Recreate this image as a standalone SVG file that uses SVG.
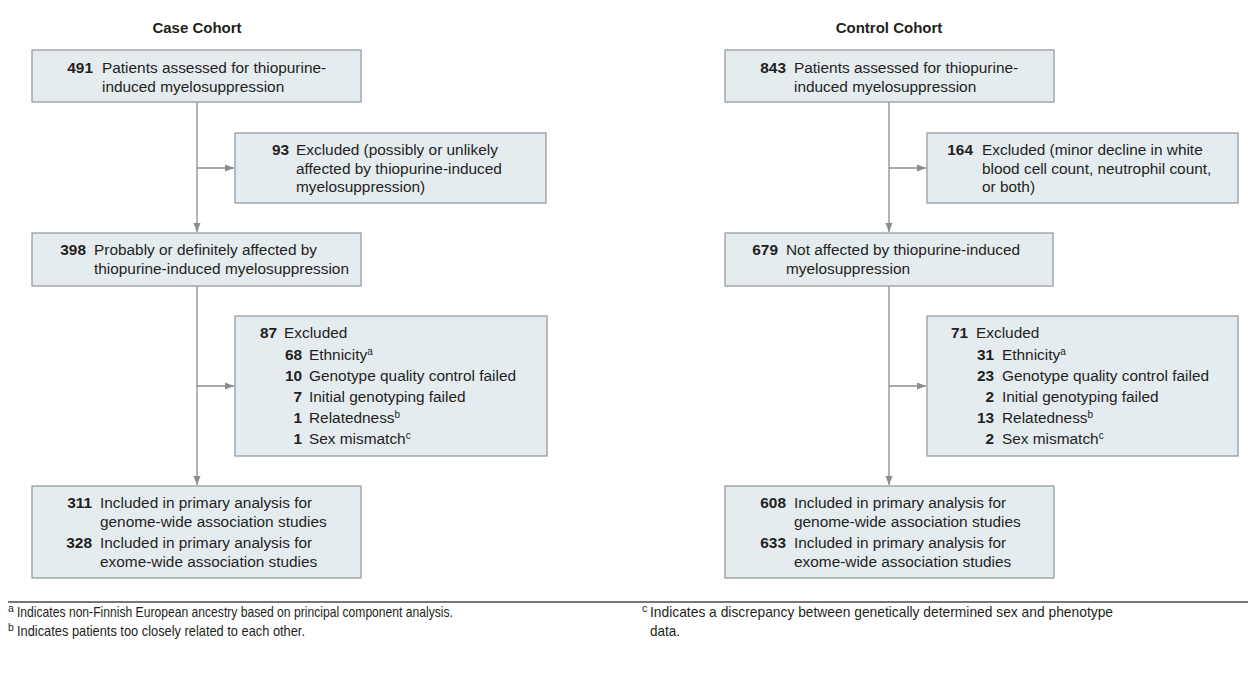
<svg xmlns="http://www.w3.org/2000/svg" width="1248" height="677" viewBox="0 0 1248 677">
<style>
.box{fill:#e5ecf0;stroke:#8f9599;stroke-width:1.2}
.t{font-family:"Liberation Sans",Arial,sans-serif;font-size:15.4px;fill:#231f20}
.n{font-family:"Liberation Sans",Arial,sans-serif;font-size:15.4px;font-weight:bold;fill:#231f20;text-anchor:end}
.h{font-family:"Liberation Sans",Arial,sans-serif;font-size:15px;font-weight:bold;fill:#231f20;text-anchor:middle}
.sup{font-size:10px}
.fn{font-family:"Liberation Sans",Arial,sans-serif;font-size:15px;fill:#231f20}
.fs{font-family:"Liberation Sans",Arial,sans-serif;font-size:10.5px;fill:#231f20}
.c{fill:none;stroke:#8c8c8c;stroke-width:1.3}
</style>
<defs>
<marker id="arr" markerUnits="userSpaceOnUse" markerWidth="9" markerHeight="8" refX="9" refY="4" orient="auto">
<path d="M0,0.5 L9,4 L0,7.5 z" fill="#8c8c8c"/>
</marker>
</defs>
<rect width="1248" height="677" fill="#ffffff"/>
<text class="h" x="197" y="33">Case Cohort</text>
<text class="h" x="889" y="33">Control Cohort</text>
<g id="connectors">
<path class="c" d="M197,102 V232" marker-end="url(#arr)"/>
<path class="c" d="M197,168 H234" marker-end="url(#arr)"/>
<path class="c" d="M197,286 V485" marker-end="url(#arr)"/>
<path class="c" d="M197,386 H234" marker-end="url(#arr)"/>
<path class="c" d="M889,102 V232" marker-end="url(#arr)"/>
<path class="c" d="M889,168 H926" marker-end="url(#arr)"/>
<path class="c" d="M889,286 V485" marker-end="url(#arr)"/>
<path class="c" d="M889,386 H926" marker-end="url(#arr)"/>
</g>
<g id="case-assessed">
<rect class="box" x="32" y="50" width="329" height="52"/>
<text class="n" x="93" y="73">491</text>
<text class="t" x="102" y="73">Patients assessed for thiopurine-</text>
<text class="t" x="102" y="92">induced myelosuppression</text>
</g>
<g id="case-excluded1">
<rect class="box" x="235" y="133" width="311" height="70"/>
<text class="n" x="289" y="155">93</text>
<text class="t" x="296" y="155">Excluded (possibly or unlikely</text>
<text class="t" x="296" y="173.5">affected by thiopurine-induced</text>
<text class="t" x="296" y="192">myelosuppression)</text>
</g>
<g id="case-affected">
<rect class="box" x="32" y="233" width="329" height="53"/>
<text class="n" x="86" y="255">398</text>
<text class="t" x="94" y="255">Probably or definitely affected by</text>
<text class="t" x="94" y="273.5">thiopurine-induced myelosuppression</text>
</g>
<g id="case-excluded2">
<rect class="box" x="235" y="316" width="312" height="140"/>
<text class="n" x="277" y="338">87</text>
<text class="t" x="284" y="338">Excluded</text>
<text class="n" x="302" y="359.5">68</text>
<text class="t" x="309" y="359.5">Ethnicity<tspan class="sup" dy="-5">a</tspan></text>
<text class="n" x="302" y="380.5">10</text>
<text class="t" x="309" y="380.5">Genotype quality control failed</text>
<text class="n" x="302" y="401.5">7</text>
<text class="t" x="309" y="401.5">Initial genotyping failed</text>
<text class="n" x="302" y="423">1</text>
<text class="t" x="309" y="423">Relatedness<tspan class="sup" dy="-5">b</tspan></text>
<text class="n" x="302" y="444">1</text>
<text class="t" x="309" y="444">Sex mismatch<tspan class="sup" dy="-5">c</tspan></text>
</g>
<g id="case-included">
<rect class="box" x="32" y="486" width="329" height="92"/>
<text class="n" x="92" y="508">311</text>
<text class="t" x="100" y="508">Included in primary analysis for</text>
<text class="t" x="100" y="527">genome-wide association studies</text>
<text class="n" x="92" y="548">328</text>
<text class="t" x="100" y="548">Included in primary analysis for</text>
<text class="t" x="100" y="567">exome-wide association studies</text>
</g>
<g id="control-assessed">
<rect class="box" x="725" y="50" width="329" height="52"/>
<text class="n" x="786" y="73">843</text>
<text class="t" x="794" y="73">Patients assessed for thiopurine-</text>
<text class="t" x="794" y="92">induced myelosuppression</text>
</g>
<g id="control-excluded1">
<rect class="box" x="927" y="133" width="311" height="70"/>
<text class="n" x="973" y="155">164</text>
<text class="t" x="982" y="155">Excluded (minor decline in white</text>
<text class="t" x="982" y="173.5">blood cell count, neutrophil count,</text>
<text class="t" x="982" y="192">or both)</text>
</g>
<g id="control-unaffected">
<rect class="box" x="725" y="233" width="328" height="53"/>
<text class="n" x="778" y="255">679</text>
<text class="t" x="786" y="255">Not affected by thiopurine-induced</text>
<text class="t" x="786" y="273.5">myelosuppression</text>
</g>
<g id="control-excluded2">
<rect class="box" x="927" y="316" width="311" height="140"/>
<text class="n" x="968" y="338">71</text>
<text class="t" x="976" y="338">Excluded</text>
<text class="n" x="994" y="359.5">31</text>
<text class="t" x="1002" y="359.5">Ethnicity<tspan class="sup" dy="-5">a</tspan></text>
<text class="n" x="994" y="380.5">23</text>
<text class="t" x="1002" y="380.5">Genotype quality control failed</text>
<text class="n" x="994" y="401.5">2</text>
<text class="t" x="1002" y="401.5">Initial genotyping failed</text>
<text class="n" x="994" y="423">13</text>
<text class="t" x="1002" y="423">Relatedness<tspan class="sup" dy="-5">b</tspan></text>
<text class="n" x="994" y="444">2</text>
<text class="t" x="1002" y="444">Sex mismatch<tspan class="sup" dy="-5">c</tspan></text>
</g>
<g id="control-included">
<rect class="box" x="725" y="486" width="329" height="92"/>
<text class="n" x="786" y="508">608</text>
<text class="t" x="794" y="508">Included in primary analysis for</text>
<text class="t" x="794" y="527">genome-wide association studies</text>
<text class="n" x="786" y="548">633</text>
<text class="t" x="794" y="548">Included in primary analysis for</text>
<text class="t" x="794" y="567">exome-wide association studies</text>
</g>
<g id="footnotes">
<line x1="8" y1="602" x2="1248" y2="602" stroke="#4a4a4a" stroke-width="1.5"/>
<text class="fs" x="8" y="612">a</text>
<text class="fn" x="17" y="617" textLength="436" lengthAdjust="spacingAndGlyphs">Indicates non-Finnish European ancestry based on principal component analysis.</text>
<text class="fs" x="8" y="631">b</text>
<text class="fn" x="17" y="636" textLength="288" lengthAdjust="spacingAndGlyphs">Indicates patients too closely related to each other.</text>
<text class="fs" x="642" y="612">c</text>
<text class="fn" x="650" y="617" textLength="463" lengthAdjust="spacingAndGlyphs">Indicates a discrepancy between genetically determined sex and phenotype</text>
<text class="fn" x="650" y="636" textLength="30" lengthAdjust="spacingAndGlyphs">data.</text>
</g>
</svg>
